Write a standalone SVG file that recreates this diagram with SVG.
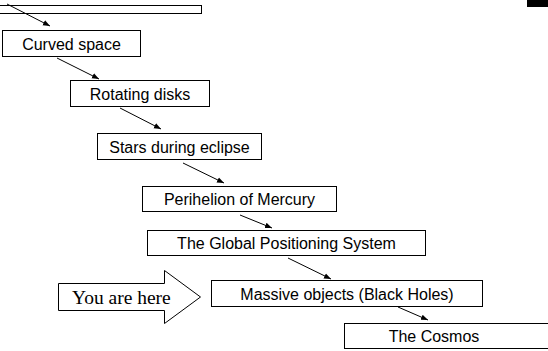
<svg xmlns="http://www.w3.org/2000/svg" width="548" height="351" viewBox="0 0 548 351">
  <style>
    .box { fill: #fff; stroke: #000; stroke-width: 1; }
    .lbl { font-family: "Liberation Sans", Arial, sans-serif; font-size: 16px; fill: #000; text-anchor: middle; }
    .link { stroke: #000; stroke-width: 1; fill: none; marker-end: url(#head); }
    .pointer { fill: #fff; stroke: #000; stroke-width: 1; }
    .here { font-family: "Liberation Serif", "Times New Roman", serif; font-size: 19.5px; fill: #000; }
  </style>
  <defs>
    <marker id="head" viewBox="0 0 10 10" refX="10" refY="5" markerWidth="7" markerHeight="7" markerUnits="userSpaceOnUse" orient="auto">
      <path d="M0,1 L10,5 L0,9 Z" fill="#000"/>
    </marker>
  </defs>
  <rect width="548" height="351" fill="#fff"/>

  <!-- corner mark -->
  <rect x="527" y="0" width="21" height="7" fill="#000"/>

  <g id="top-bar">
    <rect class="box" x="-1" y="5.5" width="202.5" height="8"/>
  </g>

  <g id="curved-space">
    <rect class="box" x="2.5" y="30.5" width="138" height="26"/>
    <text class="lbl" x="71.5" y="49.5">Curved space</text>
  </g>

  <g id="rotating-disks">
    <rect class="box" x="70.5" y="80.5" width="139" height="26"/>
    <text class="lbl" x="140" y="99.5">Rotating disks</text>
  </g>

  <g id="stars-eclipse">
    <rect class="box" x="97.5" y="133.5" width="164" height="26"/>
    <text class="lbl" x="179.5" y="152.5">Stars during eclipse</text>
  </g>

  <g id="perihelion">
    <rect class="box" x="142.5" y="186.5" width="194" height="25"/>
    <text class="lbl" x="239.5" y="205">Perihelion of Mercury</text>
  </g>

  <g id="gps">
    <rect class="box" x="147.5" y="230.5" width="278" height="25"/>
    <text class="lbl" x="286.5" y="249">The Global Positioning System</text>
  </g>

  <g id="massive-objects">
    <rect class="box" x="211.5" y="280.5" width="271" height="26"/>
    <text class="lbl" x="347" y="299.5">Massive objects (Black Holes)</text>
  </g>

  <g id="cosmos">
    <rect class="box" x="344.5" y="323.5" width="210" height="25"/>
    <text class="lbl" x="434" y="342">The Cosmos</text>
  </g>

  <g id="you-are-here">
    <path class="pointer" d="M58.5,283.5 H164.5 V270.5 L200.5,297 L164.5,323.5 V310.5 H58.5 Z"/>
    <text class="here" x="72" y="304">You are here</text>
  </g>

  <g id="connectors">
    <line class="link" x1="7" y1="4" x2="50" y2="26"/>
    <line class="link" x1="57" y1="58" x2="99" y2="79"/>
    <line class="link" x1="120" y1="108" x2="161" y2="129"/>
    <line class="link" x1="183" y1="163" x2="224" y2="183"/>
    <line class="link" x1="240" y1="215" x2="272" y2="228"/>
    <line class="link" x1="288" y1="258" x2="331" y2="279"/>
    <line class="link" x1="398" y1="307" x2="428" y2="320"/>
  </g>
</svg>
